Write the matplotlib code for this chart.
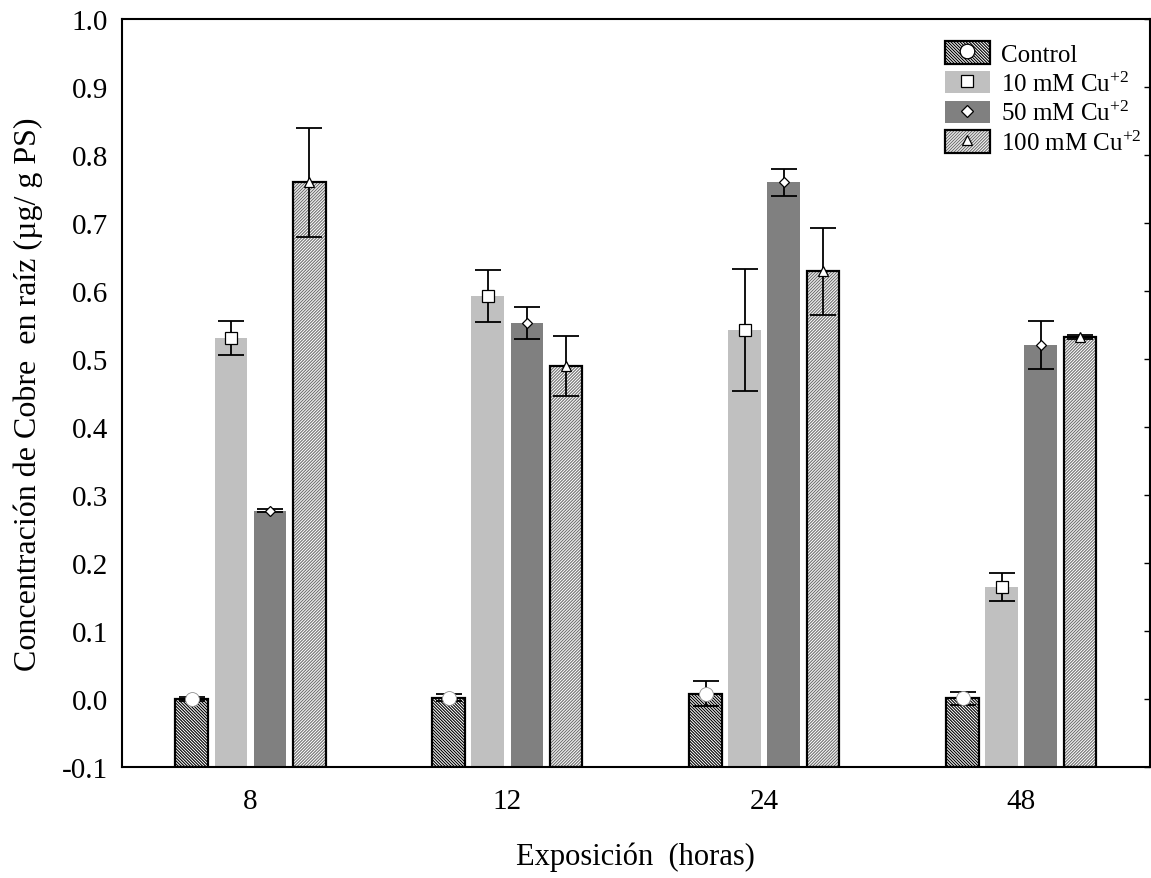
import matplotlib
matplotlib.use("Agg")
import matplotlib.pyplot as plt
from matplotlib.patches import Patch
from matplotlib.lines import Line2D
import numpy as np

# ---------------------------------------------------------------------------
# Data
# ---------------------------------------------------------------------------
hours = ["8", "12", "24", "48"]
series = ["Control", "10 mM Cu$^{+2}$", "50 mM Cu$^{+2}$", "100 mM Cu$^{+2}$"]

control_mean = [0.000, 0.002, 0.008, 0.001]
control_err = [0.003, 0.005, 0.018, 0.010]
cu10_mean = [0.531, 0.593, 0.543, 0.165]
cu10_err = [0.025, 0.038, 0.090, 0.021]
cu50_mean = [0.277, 0.553, 0.760, 0.521]
cu50_err = [0.002, 0.024, 0.020, 0.035]
cu100_mean = [0.760, 0.490, 0.629, 0.532]
cu100_err = [0.080, 0.044, 0.064, 0.003]

BASE = -0.1

plt.rcParams["font.family"] = ["Liberation Serif", "DejaVu Serif"]
plt.rcParams["mathtext.fontset"] = "custom"
plt.rcParams["mathtext.rm"] = "Liberation Serif"
plt.rcParams["mathtext.default"] = "regular"
plt.rcParams["hatch.linewidth"] = 0.8

# per-series style
styles = [
    dict(face="white", hatch="\\" * 11, hatch_col="black", edge="black", marker="o", ms=10),
    dict(face="#c0c0c0", hatch=None, hatch_col=None, edge=None, marker="s", ms=8),
    dict(face="#808080", hatch=None, hatch_col=None, edge=None, marker="D", ms=5.5),
    dict(face="white", hatch="/" * 11, hatch_col="#707070", edge="black", marker="^", ms=7.5),
]
means = [control_mean, cu10_mean, cu50_mean, cu100_mean]
errs = [control_err, cu10_err, cu50_err, cu100_err]

fig = plt.figure(figsize=(11.51, 8.79), dpi=100)
ax = fig.add_axes([0.106, 0.1263, 0.893, 0.8507])

x = np.arange(len(hours))
slot = 0.152
width = 0.128

for i, (st, m, e) in enumerate(zip(styles, means, errs)):
    xs = x + (i - 1.5) * slot
    heights = [v - BASE for v in m]
    if st["hatch"]:
        ax.bar(xs, heights, width, bottom=BASE, color=st["face"], hatch=st["hatch"],
               edgecolor=st["hatch_col"], linewidth=0, zorder=2)
        ax.bar(xs, heights, width, bottom=BASE, fill=False,
               edgecolor=st["edge"], linewidth=1.6, zorder=3)
    else:
        ax.bar(xs, heights, width, bottom=BASE, color=st["face"], linewidth=0, zorder=2)
    ax.errorbar(xs, m, yerr=e, fmt="none", ecolor="black", elinewidth=1.3,
                capsize=9.5, capthick=1.3, zorder=4)
    ax.plot(xs, m, linestyle="none", marker=st["marker"], markersize=st["ms"],
            markerfacecolor="white",
            markeredgecolor="#909090" if i == 0 else "black",
            markeredgewidth=0.6 if i == 0 else 0.9, zorder=5)

# ── Axes ────────────────────────────────────────────────────────────────
ax.set_xlim(-0.5, 3.5)
ax.set_ylim(-0.1, 1.0)
ax.set_xticks(x)
ax.set_xticklabels(hours)
yt = np.arange(-0.1, 1.01, 0.1)
ax.set_yticks(yt)
ax.set_yticklabels([f"{v:.1f}" for v in yt])
ax.tick_params(axis="x", length=0, labelsize=21, pad=15)
ax.tick_params(axis="y", left=False, right=True, direction="in", length=4,
               width=1.0, labelsize=21, pad=10)
for spine in ax.spines.values():
    spine.set_linewidth(1.5)
    spine.set_color("black")

ax.set_xlabel("Exposición  (horas)", fontsize=22, labelpad=20)
ax.set_ylabel("Concentración de Cobre  en raíz (µg/ g PS)", fontsize=23, labelpad=14)

# ── Legend ──────────────────────────────────────────────────────────────
handles = []
for st in styles:
    parts = []
    if st["hatch"]:
        parts.append(Patch(facecolor=st["face"], hatch=st["hatch"],
                           edgecolor=st["hatch_col"], linewidth=0))
        parts.append(Patch(fill=False, edgecolor=st["edge"], linewidth=1.6))
    else:
        parts.append(Patch(facecolor=st["face"], linewidth=0))
    parts.append(Line2D([0], [0], linestyle="none", marker=st["marker"],
                        markersize=st["ms"] * 1.05, markerfacecolor="white",
                        markeredgecolor="black", markeredgewidth=0.9))
    handles.append(tuple(parts))

fig.legend(handles, series, loc="upper left", bbox_to_anchor=(0.821, 0.952),
           frameon=False, fontsize=18, handlelength=1.8, handleheight=1.0,
           labelspacing=0.2, handletextpad=0.45, borderpad=0, borderaxespad=0)

fig.savefig("out.png", dpi=100)
